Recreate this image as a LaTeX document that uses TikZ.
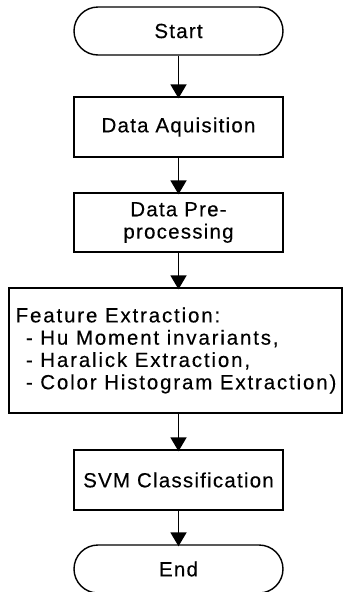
\documentclass[tikz,border=0pt]{standalone}
\usepackage{fontspec}
\setmainfont{Liberation Sans}[LetterSpace=6,FakeBold=0.3]
\usetikzlibrary{arrows.meta}
\begin{document}
\begin{tikzpicture}[x=1pt,y=-1pt,
  every node/.style={font=\fontsize{20.5}{22.3}\selectfont, inner sep=0pt, align=center},
  terminal/.style={draw, line width=1.4pt, rounded corners=24pt, minimum width=209pt, minimum height=48pt},
  process/.style={draw, line width=1.4pt, minimum width=209pt, minimum height=60pt},
  flow/.style={line width=1.9pt, shorten >=-2pt, -{Triangle[width=16pt,length=14pt]}}]
  \useasboundingbox (0,0) rectangle (344,592);
  % stages of the pipeline, top to bottom
  \node[terminal] (start) at (178.5,31) {Start};
  \node[process] (acq) at (178.5,127) {Data Aquisition};
  \node[process, minimum height=59pt] (pre) at (178.5,222.5) {Data Pre-\\processing};
  \node[draw, line width=1.4pt, minimum width=333pt, minimum height=125pt] (feat) at (175.5,350.5) {};
  \node[anchor=west, align=left,
        font=\fontsize{20.5}{22.3}\selectfont\addfontfeature{LetterSpace=9}]
    (featlist) at (15.5,350.5)
    {Feature Extraction:\\
     \hspace*{0.5em}- Hu Moment invariants,\\
     \hspace*{0.5em}- Haralick Extraction,\\
     \hspace*{0.5em}- Color Histogram Extraction)};
  \node[process] (svm) at (178.5,480) {SVM Classification};
  \node[terminal] (end) at (178.5,569) {End};
  % connectors
  \draw[flow] (start) -- (acq);
  \draw[flow] (acq) -- (pre);
  \draw[flow] (pre.south) -- (pre.south |- feat.north);
  \draw[flow] (feat.south -| svm.north) -- (svm);
  \draw[flow] (svm) -- (end);
\end{tikzpicture}
\end{document}
